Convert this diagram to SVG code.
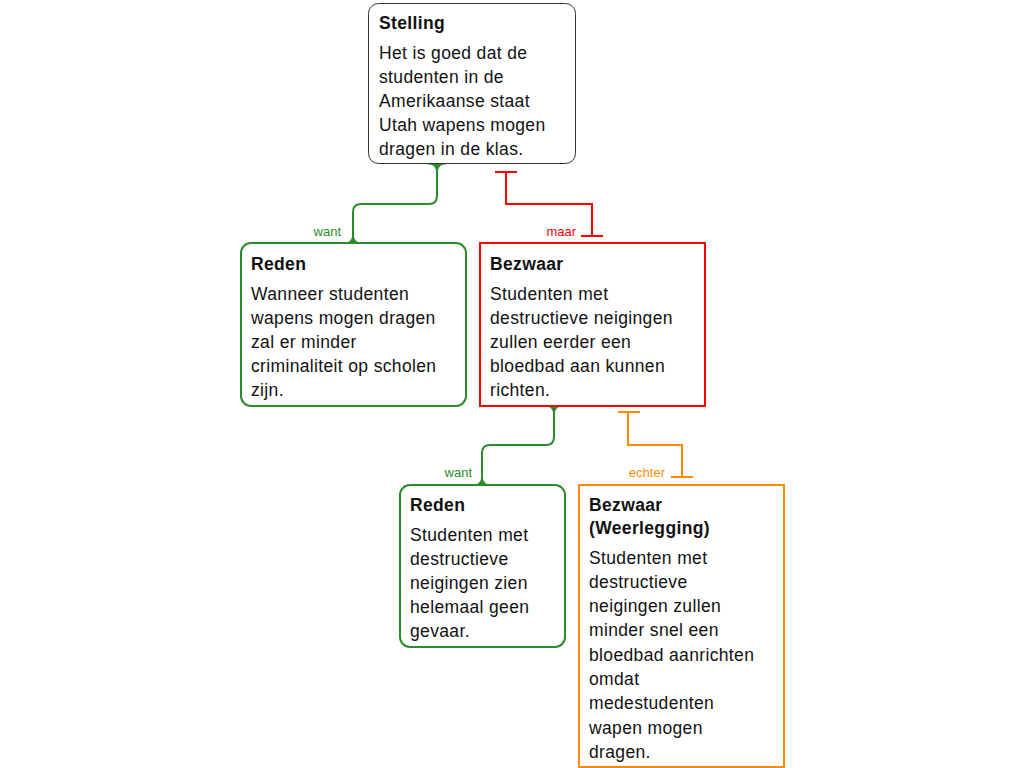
<svg xmlns="http://www.w3.org/2000/svg" width="1024" height="768" viewBox="0 0 1024 768">
<style>
.t{font-family:"Liberation Sans",Arial,sans-serif;font-size:17.5px;fill:#111;letter-spacing:0.35px}
.h{font-weight:bold}
.lbl{font-family:"Liberation Sans",Arial,sans-serif;font-size:13px}
.g{stroke:#2a8c2a;fill:none;stroke-width:2}
.r{stroke:#ff0000;fill:none;stroke-width:2}
.o{stroke:#ff8c00;fill:none;stroke-width:2}
.f{fill:#2a8c2a;stroke:#2a8c2a;stroke-width:0.5}
</style>
<rect width="1024" height="768" fill="#fff"/>
<g id="connectors">
  <g id="c1">
    <path class="g" d="M437,164 V196 Q437,204 429,204 H361 Q353,204 353,212 V243"/>
    <path class="f" d="M428,164 C433,164 437,167 437,175 C437,167 441,164 446,164 Z M344,243 C349,243 353,240 353,232 C353,240 357,243 362,243 Z"/>
    <text class="lbl" x="341" y="236" text-anchor="end" fill="#2a8c2a">want</text>
  </g>
  <g id="c2">
    <path class="r" d="M495,172 H517 M506,172 V204 H592 V236 M581,236 H603"/>
    <text class="lbl" x="576" y="236" text-anchor="end" fill="#ff0000">maar</text>
  </g>
  <g id="c3">
    <path class="g" d="M554,406 V437 Q554,445 546,445 H490 Q482,445 482,453 V485"/>
    <path class="f" d="M545,406 C550,406 554,409 554,417 C554,409 558,406 563,406 Z M473,485 C478,485 482,482 482,474 C482,482 486,485 491,485 Z"/>
    <text class="lbl" x="472" y="477" text-anchor="end" fill="#2a8c2a">want</text>
  </g>
  <g id="c4">
    <path class="o" d="M618,412 H640 M628,412 V445 H682 V477 M671,477 H693"/>
    <text class="lbl" x="665" y="477" text-anchor="end" fill="#ff8c00">echter</text>
  </g>
</g>
<g id="stelling">
  <rect x="368.5" y="3.5" width="207" height="160" rx="10" fill="#fff" stroke="#333" stroke-width="1"/>
  <text class="t h" x="379" y="29">Stelling</text>
  <text class="t" x="379" y="59">Het is goed dat de</text>
  <text class="t" x="379" y="83">studenten in de</text>
  <text class="t" x="379" y="107">Amerikaanse staat</text>
  <text class="t" x="379" y="131">Utah wapens mogen</text>
  <text class="t" x="379" y="155">dragen in de klas.</text>
</g>
<g id="reden1">
  <rect x="241" y="243" width="225" height="163" rx="10" fill="#fff" stroke="#2a8c2a" stroke-width="2"/>
  <text class="t h" x="251" y="270">Reden</text>
  <text class="t" x="251" y="300">Wanneer studenten</text>
  <text class="t" x="251" y="324">wapens mogen dragen</text>
  <text class="t" x="251" y="348">zal er minder</text>
  <text class="t" x="251" y="372">criminaliteit op scholen</text>
  <text class="t" x="251" y="396">zijn.</text>
</g>
<g id="bezwaar1">
  <rect x="480" y="243" width="225" height="163" fill="#fff" stroke="#ff0000" stroke-width="2"/>
  <text class="t h" x="490" y="270">Bezwaar</text>
  <text class="t" x="490" y="300">Studenten met</text>
  <text class="t" x="490" y="324">destructieve neigingen</text>
  <text class="t" x="490" y="348">zullen eerder een</text>
  <text class="t" x="490" y="372">bloedbad aan kunnen</text>
  <text class="t" x="490" y="396">richten.</text>
</g>
<g id="reden2">
  <rect x="400" y="485" width="165" height="162" rx="10" fill="#fff" stroke="#2a8c2a" stroke-width="2"/>
  <text class="t h" x="410" y="511">Reden</text>
  <text class="t" x="410" y="541">Studenten met</text>
  <text class="t" x="410" y="565">destructieve</text>
  <text class="t" x="410" y="589">neigingen zien</text>
  <text class="t" x="410" y="613">helemaal geen</text>
  <text class="t" x="410" y="637">gevaar.</text>
</g>
<g id="bezwaar2">
  <rect x="579" y="485" width="205" height="282" fill="#fff" stroke="#ff8c00" stroke-width="2"/>
  <text class="t h" x="589" y="511">Bezwaar</text>
  <text class="t h" x="589" y="534">(Weerlegging)</text>
  <text class="t" x="589" y="564">Studenten met</text>
  <text class="t" x="589" y="588">destructieve</text>
  <text class="t" x="589" y="612">neigingen zullen</text>
  <text class="t" x="589" y="636">minder snel een</text>
  <text class="t" x="589" y="661">bloedbad aanrichten</text>
  <text class="t" x="589" y="685">omdat</text>
  <text class="t" x="589" y="709">medestudenten</text>
  <text class="t" x="589" y="734">wapen mogen</text>
  <text class="t" x="589" y="758">dragen.</text>
</g>
</svg>
